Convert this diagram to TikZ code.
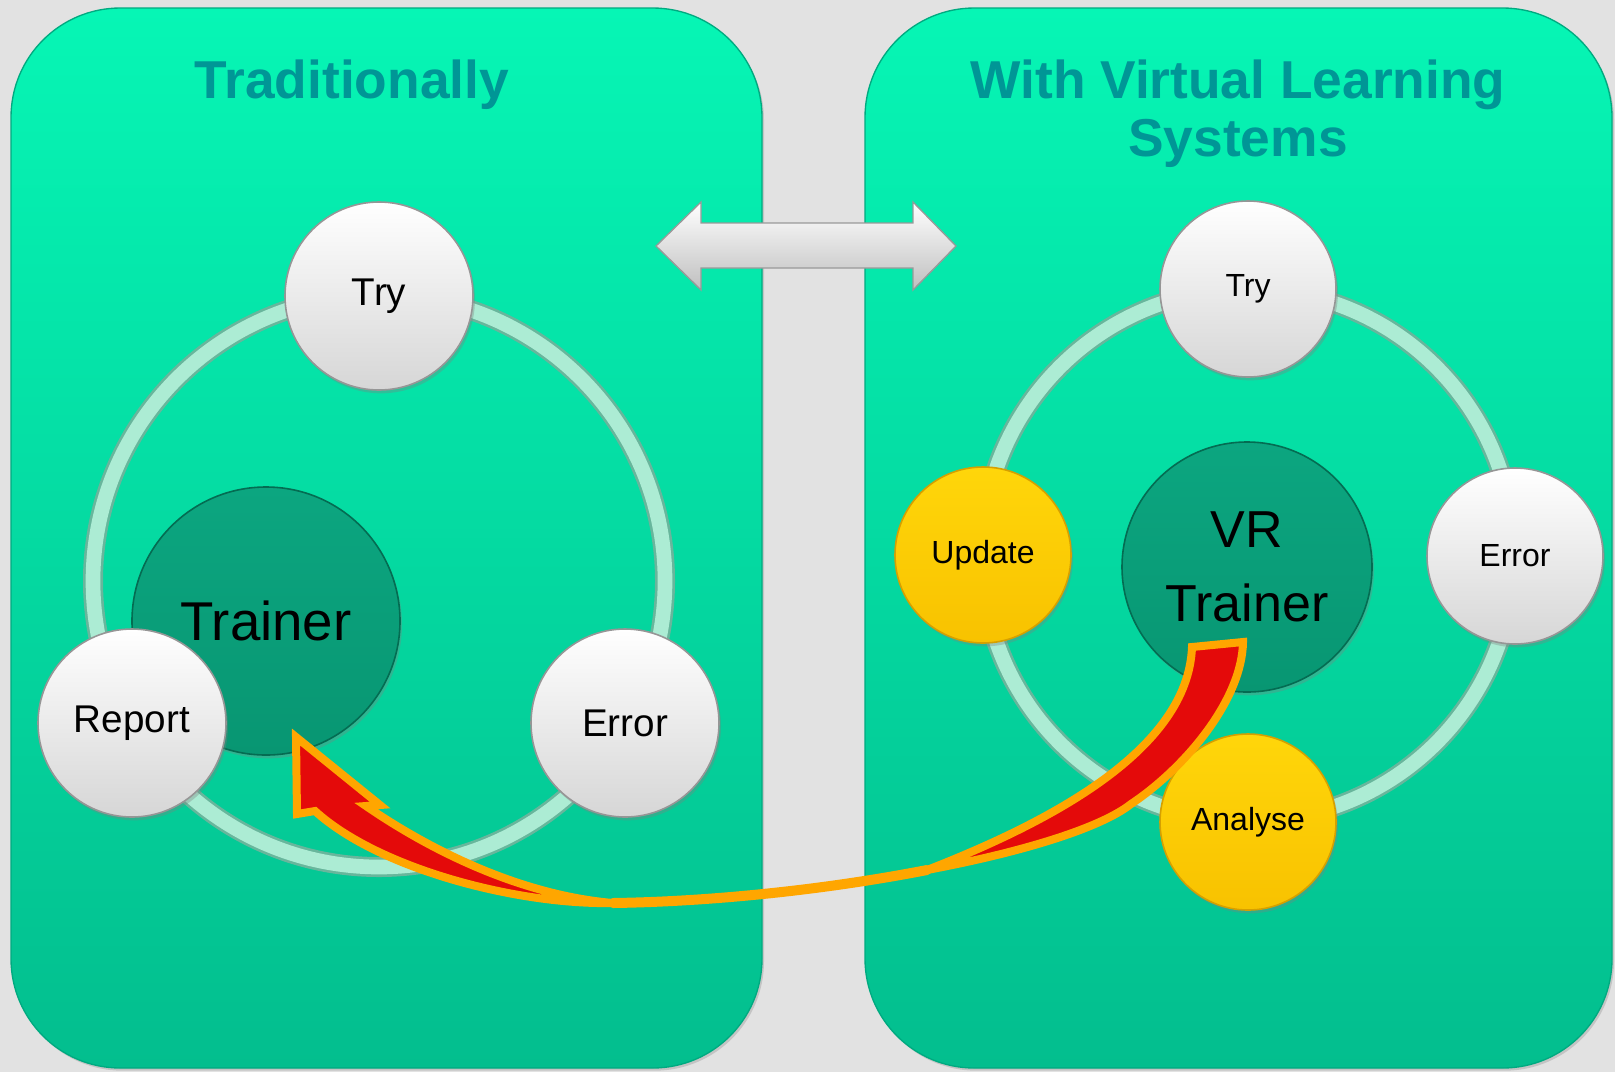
\documentclass[tikz,border=0pt]{standalone}
\usepackage{fontspec}
\setmainfont{Liberation Sans}
\usetikzlibrary{shadows}

\definecolor{bgGray}{RGB}{226,226,226}
\definecolor{panelTop}{RGB}{6,246,181}
\definecolor{panelBot}{RGB}{3,190,142}
\definecolor{panelEdge}{RGB}{0,170,128}
\definecolor{titleTeal}{RGB}{0,150,150}
\definecolor{ringEdge}{RGB}{104,182,156}
\definecolor{ringCore}{RGB}{172,236,212}
\definecolor{ballEdge}{RGB}{150,150,150}
\definecolor{goldTop}{RGB}{255,214,10}
\definecolor{goldBot}{RGB}{248,194,0}
\definecolor{goldEdge}{RGB}{214,160,0}
\definecolor{coreTop}{RGB}{12,166,128}
\definecolor{coreBot}{RGB}{8,150,114}
\definecolor{coreEdge}{RGB}{4,108,82}
\definecolor{flowRed}{RGB}{228,10,10}
\definecolor{flowOrange}{RGB}{255,166,0}

\tikzset{every picture/.style={line width=0.75pt}}
\tikzset{
  panel/.style={top color=panelTop, bottom color=panelBot, draw=panelEdge, line width=1pt, rounded corners=82pt, drop shadow={shadow xshift=1.5pt, shadow yshift=-2pt, opacity=0.3}},
  heading/.style={text=titleTeal, font=\fontsize{40pt}{43.5pt}\selectfont\bfseries, align=center, anchor=north, inner sep=0pt},
  swaparrow/.style={top color=white, middle color=black!4, bottom color=black!25, draw=black!40, line width=1pt},
  loopring/.style={line width=15pt, ringEdge},
  loopcore/.style={line width=11pt, ringCore},
  ball/.style={circle, inner sep=0pt, line width=1.2pt, drop shadow={shadow xshift=1.5pt, shadow yshift=-2.5pt, opacity=0.35}},
  whiteball/.style={ball, top color=white, bottom color=black!16, draw=ballEdge},
  goldball/.style={ball, top color=goldTop, bottom color=goldBot, draw=goldEdge},
  coreball/.style={ball, top color=coreTop, bottom color=coreBot, draw=coreEdge},
  bigstep/.style={font=\fontsize{29pt}{33pt}\selectfont, minimum size=141pt},
  smallstep/.style={font=\fontsize{24pt}{28pt}\selectfont, minimum size=132pt},
  flowband/.style={fill=flowRed, draw=flowOrange, line width=6pt, miter limit=4},
  flowline/.style={draw=flowOrange, line width=7.5pt, line cap=round},
}

\begin{document}
\begin{tikzpicture}[x=0.75pt,y=0.75pt,yscale=-1,xscale=1]
%set diagram left start at 0, and has height of 1072
\fill[bgGray] (0,0) rectangle (1615,1072);
\path[use as bounding box] (0,0) rectangle (1615,1072);

%Shape: Rounded Rect [left panel]
\path[panel] (11,8) rectangle (762,1068);
%Shape: Rounded Rect [right panel]
\path[panel] (865,8) rectangle (1612,1068);

%Shape: Left-Right Arrow
\draw[swaparrow] (656,246) -- (701,202) -- (701,223) -- (913,223) -- (913,202) -- (956,246) -- (913,290) -- (913,268) -- (701,268) -- (701,290) -- cycle;

%Shape: Circle [left loop]
\coordinate (lhub) at (379,581);
\draw[loopring] (lhub) circle (286);
\draw[loopcore] (lhub) circle (286);
%Shape: Circle [right loop]
\coordinate (rhub) at (1248,555);
\draw[loopring] (rhub) circle (266);
\draw[loopcore] (rhub) circle (266);

% Text Node
\node[heading] (ltitle) at (352,59) {Traditionally};
% Text Node
\node[heading] (rtitle) at (1238,59) {With Virtual Learning\\Systems};

%Shape: Circle [left steps]
\node[coreball, minimum size=201pt, font=\fontsize{41pt}{45pt}\selectfont] (ltrainer) at (266,621) {Trainer};
\node[whiteball, bigstep] (ltry) at (379,296) {Try};
\node[whiteball, bigstep] (lreport) at (132,723) {Report};
\node[whiteball, bigstep] (lerror) at (625,723) {Error};

%Shape: Circle [right steps]
\node[coreball, minimum size=187.5pt, font=\fontsize{39pt}{56pt}\selectfont, align=center] (rtrainer) at (1247,567) {VR\\Trainer};
\node[whiteball, smallstep] (rtry) at (1248,289) {Try};
\node[goldball, smallstep] (rupdate) at (983,555) {Update};
\node[whiteball, smallstep] (rerror) at (1515,556) {Error};
\node[goldball, smallstep] (ranalyse) at (1248,822) {Analyse};

%Curve Lines [feedback arrow]
\coordinate (vrtail) at (1192,647);
\coordinate (bandtip) at (927,870);
\coordinate (bandjoin) at (613,903);
\coordinate (headtip) at (296,737);
\draw[flowline] (bandtip) .. controls (830.75,888.75) and (716.5,901.5) .. (bandjoin);
\draw[flowband] (vrtail) -- (1243,642) .. controls (1242,700) and (1185,768) .. (1131,804) .. controls (1100.5,828) and (1022.75,852) .. (bandtip) .. controls (1050,822) and (1188,750) .. (vrtail) -- cycle;
\draw[flowband] (bandjoin) .. controls (520,905) and (380,870) .. (315,811) -- (297,814) -- (headtip) -- (380,805) -- (366,806) .. controls (430,850) and (520,895) .. (bandjoin) -- cycle;

\end{tikzpicture}
\end{document}
